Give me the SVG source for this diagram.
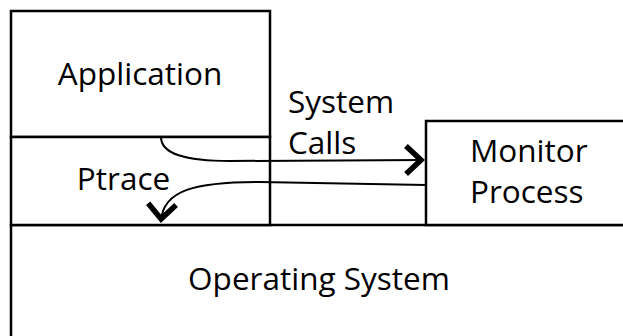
<svg xmlns="http://www.w3.org/2000/svg" width="623" height="336" viewBox="0 0 623 336">
<defs>
<style>
.box{fill:#fff;stroke:#000;stroke-width:2.5}
.lbl{font-family:"Open Sans","Noto Sans",sans-serif;font-size:31.5px;fill:#000}
.conn{fill:none;stroke:#000;stroke-width:2}
</style>
<marker id="chev" markerUnits="userSpaceOnUse" markerWidth="40" markerHeight="40" viewBox="-30 -20 40 40" refX="0" refY="0" orient="auto">
<path d="M-17,-14 L-2,0 L-17,14" fill="none" stroke="#000" stroke-width="5.5" stroke-linejoin="miter" stroke-miterlimit="10"/>
</marker>
</defs>
<rect width="623" height="336" fill="#fff"/>
<g id="os"><rect class="box" x="11" y="225" width="630" height="130"/><text class="lbl" x="319" y="290" text-anchor="middle">Operating System</text></g>
<g id="application"><rect class="box" x="11" y="11" width="259" height="126"/><text class="lbl" x="140" y="85" text-anchor="middle">Application</text></g>
<g id="ptrace"><rect class="box" x="11" y="137" width="259" height="88"/><text class="lbl" x="123.5" y="190" text-anchor="middle">Ptrace</text></g>
<g id="monitor"><rect class="box" x="426" y="121" width="210" height="104"/><text class="lbl" x="470" y="162">Monitor</text><text class="lbl" x="470" y="203">Process</text></g>
<g id="syscalls-label"><text class="lbl" x="288" y="113">System</text><text class="lbl" x="288" y="154">Calls</text></g>
<g id="connectors">
<path class="conn" d="M161,137 C161,154 185,161 230,161 L423,160" marker-end="url(#chev)"/>
<path class="conn" d="M426,185 L260,182 C195,182 163,190 161,221" marker-end="url(#chev)"/>
</g>
</svg>
